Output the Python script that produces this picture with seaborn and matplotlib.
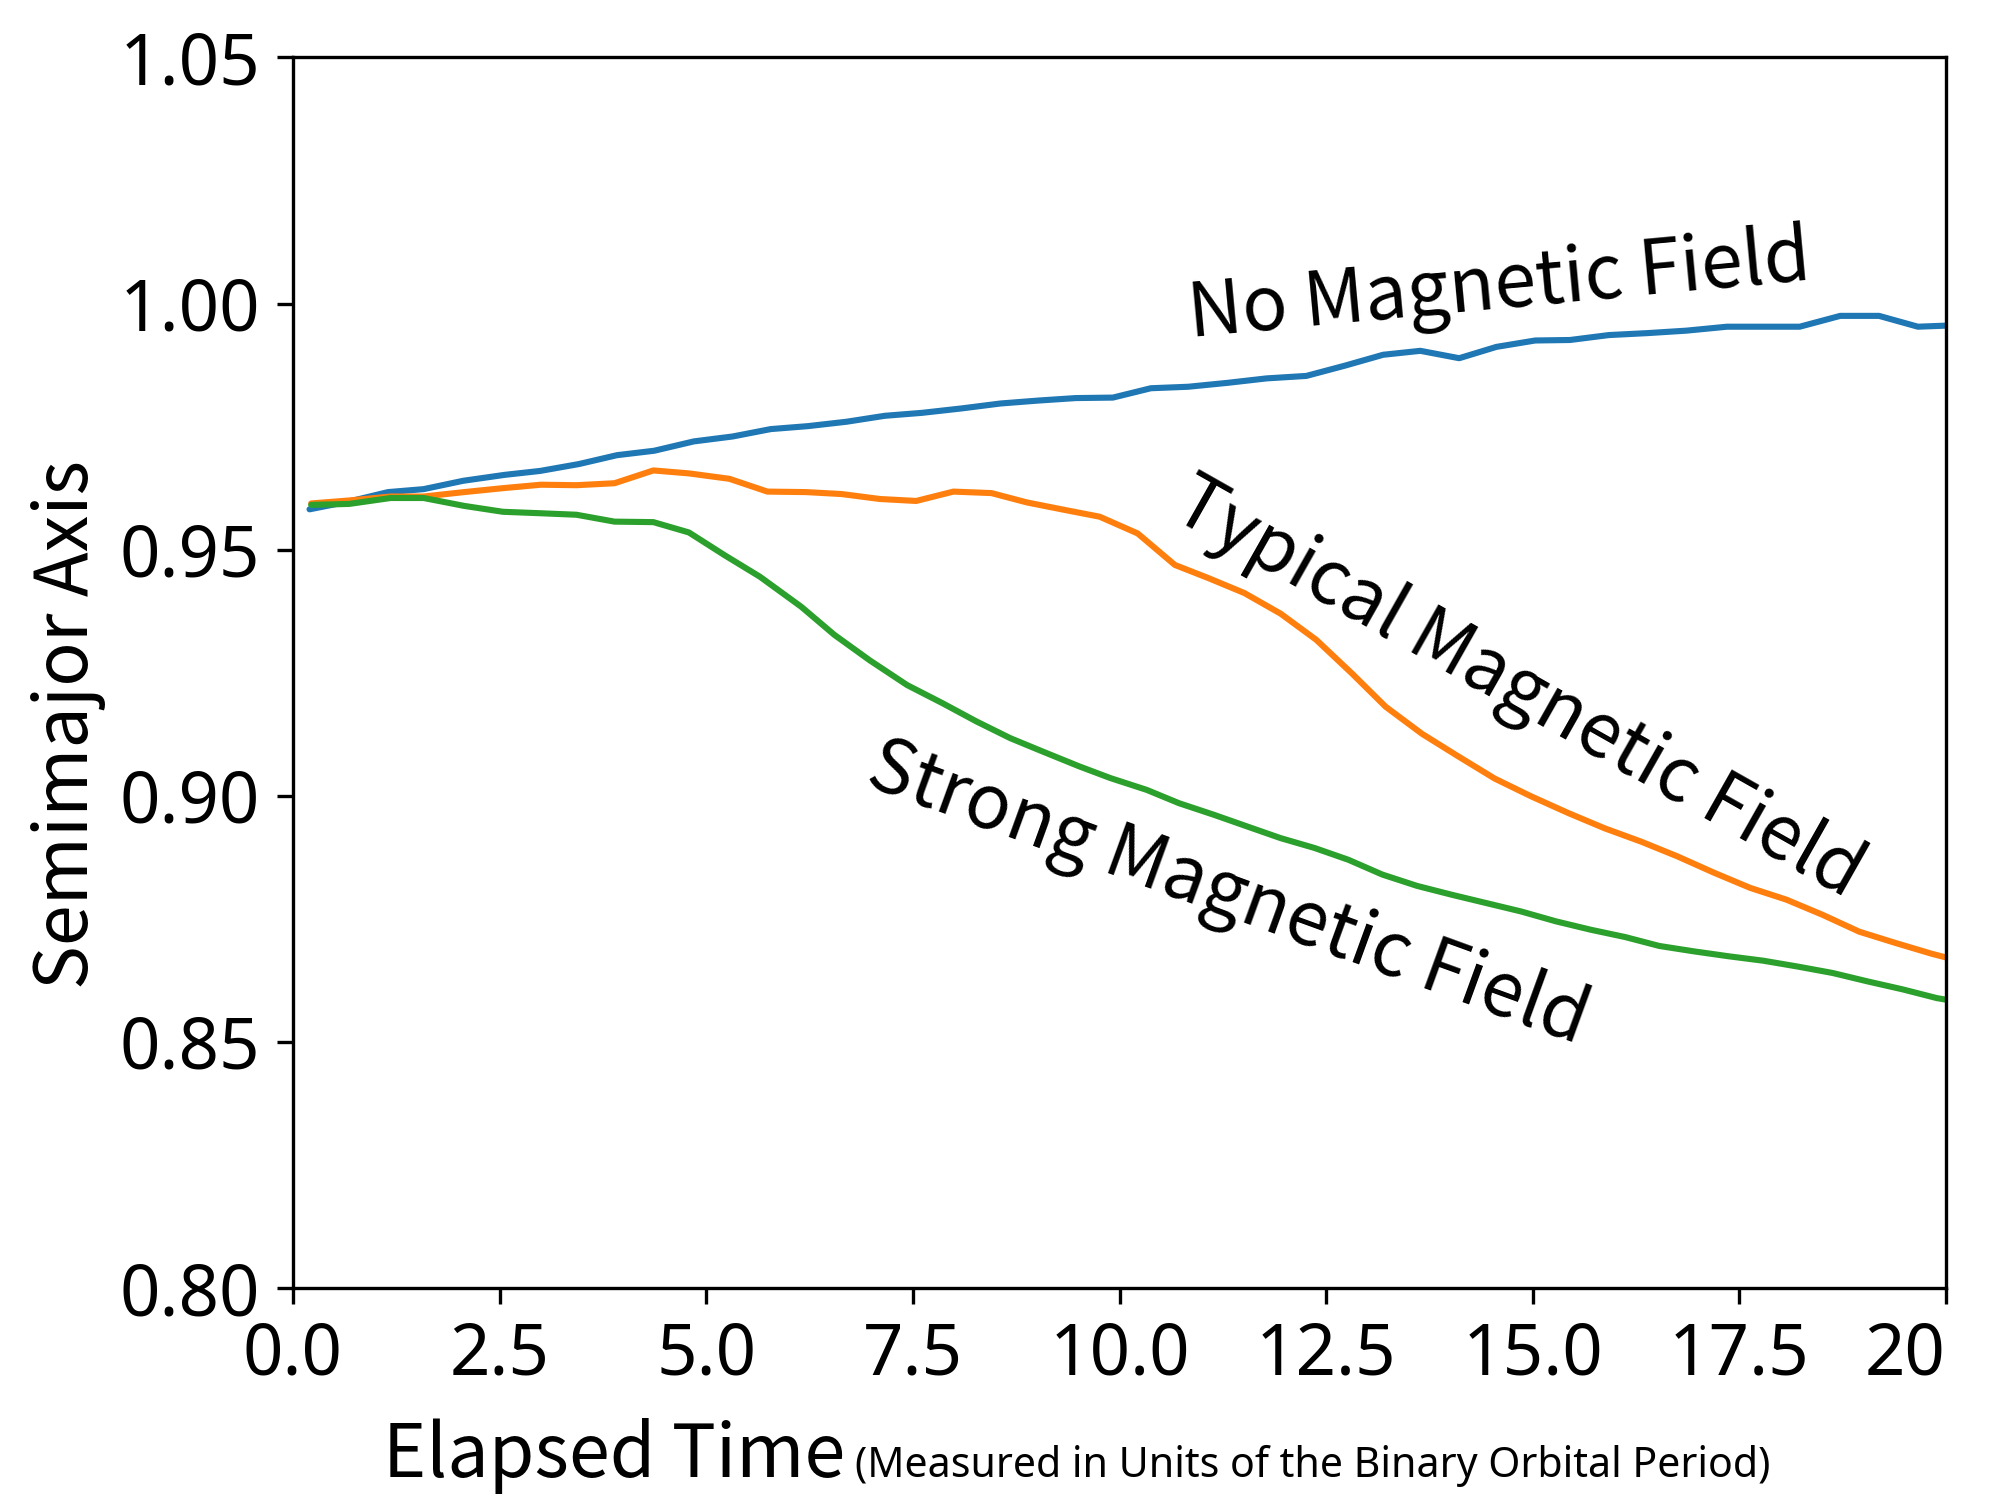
import numpy as np
import pandas as pd
import matplotlib
matplotlib.use("Agg")
import matplotlib.pyplot as plt
import seaborn as sns

# ==============================
# DATA
# ==============================

t_none = [0.20, 0.68, 1.15, 1.58, 2.06, 2.56, 2.99, 3.46, 3.92, 4.37,
          4.85, 5.32, 5.78, 6.23, 6.70, 7.16, 7.61, 8.09, 8.56, 9.02,
          9.47, 9.92, 10.38, 10.83, 11.31, 11.78, 12.26, 12.73, 13.19, 13.64,
          14.11, 14.56, 15.03, 15.45, 15.92, 16.39, 16.86, 17.35, 17.79, 18.23,
          18.72, 19.19, 19.66, 20.13]
a_none = [0.9582, 0.9598, 0.9617, 0.9623, 0.9640, 0.9652, 0.9660, 0.9674, 0.9692, 0.9701,
          0.9720, 0.9730, 0.9745, 0.9751, 0.9760, 0.9772, 0.9778, 0.9787, 0.9797, 0.9803,
          0.9808, 0.9809, 0.9828, 0.9831, 0.9839, 0.9848, 0.9853, 0.9874, 0.9896, 0.9904,
          0.9889, 0.9912, 0.9925, 0.9926, 0.9936, 0.9940, 0.9945, 0.9953, 0.9953, 0.9953,
          0.9975, 0.9975, 0.9953, 0.9956]

t_typical = [0.22, 0.68, 1.18, 1.58, 2.07, 2.54, 3.00, 3.43, 3.89, 4.36,
             4.79, 5.28, 5.74, 6.21, 6.64, 7.10, 7.54, 7.99, 8.45, 8.88,
             9.33, 9.76, 10.22, 10.67, 11.08, 11.51, 11.95, 12.38, 12.81, 13.22,
             13.66, 14.10, 14.54, 14.98, 15.43, 15.87, 16.31, 16.75, 17.19, 17.63,
             18.07, 18.51, 18.95, 19.39, 19.83, 20.27]
a_typical = [0.9594, 0.9600, 0.9608, 0.9608, 0.9617, 0.9625, 0.9632, 0.9631, 0.9635, 0.9661,
             0.9655, 0.9644, 0.9618, 0.9617, 0.9613, 0.9603, 0.9599, 0.9618, 0.9615, 0.9596,
             0.9581, 0.9567, 0.9533, 0.9469, 0.9442, 0.9412, 0.9370, 0.9317, 0.9249, 0.9181,
             0.9126, 0.9080, 0.9035, 0.8999, 0.8965, 0.8934, 0.8907, 0.8877, 0.8844, 0.8813,
             0.8789, 0.8758, 0.8724, 0.8701, 0.8679, 0.8660]

t_strong = [0.22, 0.68, 1.18, 1.58, 2.07, 2.54, 3.00, 3.43, 3.89, 4.36,
            4.79, 5.22, 5.65, 6.15, 6.55, 6.98, 7.43, 7.86, 8.27, 8.68,
            9.07, 9.51, 9.89, 10.33, 10.72, 11.15, 11.54, 11.95, 12.36, 12.77,
            13.18, 13.60, 14.02, 14.44, 14.86, 15.28, 15.70, 16.12, 16.53, 16.95,
            17.37, 17.79, 18.21, 18.63, 19.05, 19.47, 19.89, 20.31]
a_strong = [0.9591, 0.9593, 0.9605, 0.9605, 0.9589, 0.9577, 0.9574, 0.9571, 0.9557, 0.9556,
            0.9535, 0.9489, 0.9445, 0.9384, 0.9327, 0.9275, 0.9225, 0.9188, 0.9151, 0.9117,
            0.9090, 0.9060, 0.9036, 0.9012, 0.8985, 0.8961, 0.8938, 0.8914, 0.8894, 0.8870,
            0.8840, 0.8817, 0.8799, 0.8782, 0.8765, 0.8745, 0.8728, 0.8713, 0.8695, 0.8684,
            0.8674, 0.8665, 0.8653, 0.8640, 0.8623, 0.8607, 0.8589, 0.8577]

series_names = ["No Magnetic Field", "Typical Magnetic Field", "Strong Magnetic Field"]

x_ticks = [0.0, 2.5, 5.0, 7.5, 10.0, 12.5, 15.0, 17.5, 20.0]
x_tick_labels = ["0.0", "2.5", "5.0", "7.5", "10.0", "12.5", "15.0", "17.5", "20"]
y_ticks = [0.80, 0.85, 0.90, 0.95, 1.00, 1.05]
y_tick_labels = ["0.80", "0.85", "0.90", "0.95", "1.00", "1.05"]

# ==============================
# STYLE
# ==============================

sns.set_style("ticks")
plt.rcParams["font.family"] = ["Noto Sans CJK JP", "DejaVu Sans"]
plt.rcParams["text.color"] = "black"
plt.rcParams["xtick.color"] = "black"
plt.rcParams["ytick.color"] = "black"
plt.rcParams["axes.edgecolor"] = "black"

TICK_FONT = ["Noto Sans", "DejaVu Sans"]

df = pd.concat([
    pd.DataFrame({"t": t_none, "a": a_none, "field": series_names[0]}),
    pd.DataFrame({"t": t_typical, "a": a_typical, "field": series_names[1]}),
    pd.DataFrame({"t": t_strong, "a": a_strong, "field": series_names[2]}),
], ignore_index=True)

palette = dict(zip(series_names, sns.color_palette("tab10", 3)))

fig = plt.figure(figsize=(10, 7.5), dpi=200)
ax = fig.add_axes([0.1465, 0.1413, 0.8265, 0.8204])

sns.lineplot(data=df, x="t", y="a", hue="field", palette=palette,
             estimator=None, sort=False, linewidth=2.2, legend=False, ax=ax)

ax.set_xlim(0, 20)
ax.set_ylim(0.80, 1.05)
ax.set_xticks(x_ticks)
ax.set_xticklabels(x_tick_labels, family=TICK_FONT, fontsize=25.5)
ax.set_yticks(y_ticks)
ax.set_yticklabels(y_tick_labels, family=TICK_FONT, fontsize=25.5)
ax.tick_params(axis="both", length=5.8, width=1.2, pad=6)
ax.get_xticklabels()[-1].set_horizontalalignment("right")
for s in ax.spines.values():
    s.set_linewidth(1.2)

ax.set_xlabel("")
ax.set_ylabel("")

# axis titles
fig.text(0.034, 0.517, "Semimajor Axis", rotation=90, ha="center", va="center", fontsize=26.5)
fig.text(0.1915, 0.0153, "Elapsed Time", ha="left", va="baseline", fontsize=26.5)
fig.text(0.4275, 0.0153, "(Measured in Units of the Binary Orbital Period)",
         ha="left", va="baseline", fontsize=14.8, family=TICK_FONT)

# in-plot curve labels
ax.text(10.85, 0.9932, "No Magnetic Field", rotation=5.3, rotation_mode="anchor",
        ha="left", va="baseline", fontsize=27)
ax.text(10.6, 0.9569, "Typical Magnetic Field", rotation=-29.5, rotation_mode="anchor",
        ha="left", va="baseline", fontsize=27)
ax.text(6.9, 0.9024, "Strong Magnetic Field", rotation=-20, rotation_mode="anchor",
        ha="left", va="baseline", fontsize=27)

fig.savefig("out.png", dpi=200)
